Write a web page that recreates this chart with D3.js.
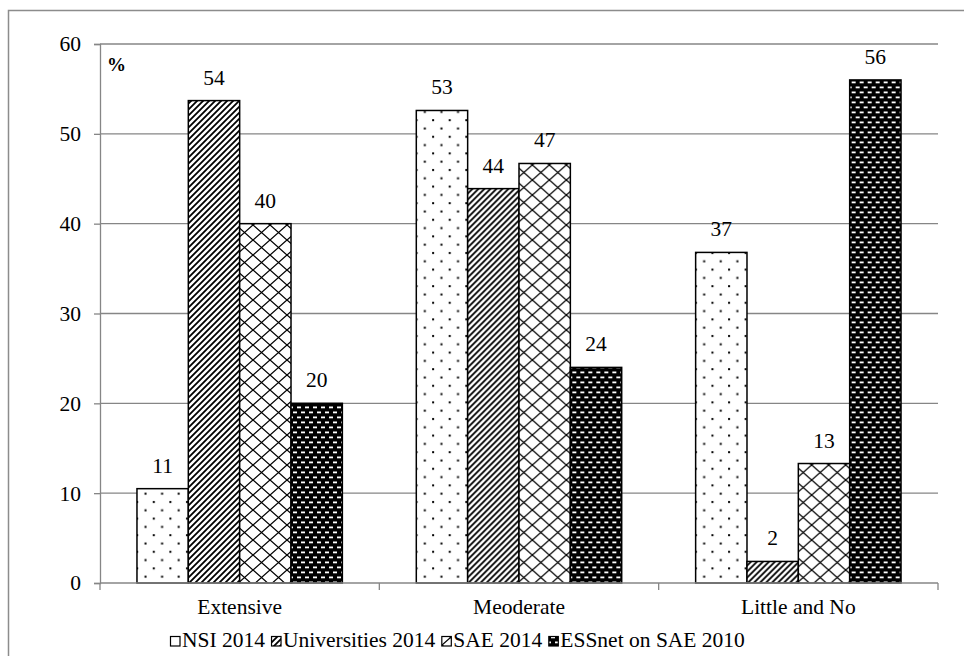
<!DOCTYPE html>
<html><head><meta charset="utf-8">
<script src="https://cdn.jsdelivr.net/npm/d3@7"></script>
<style>body{margin:0;background:#fff}svg{display:block}text{font-family:"Liberation Serif","Times New Roman","DejaVu Serif",serif;fill:#000}</style>
</head><body>
<svg id="c" width="964" height="656"></svg>
<script>
const categories = ["Extensive", "Meoderate", "Little and No"];
const seriesNames = ["NSI 2014", "Universities 2014", "SAE 2014", "ESSnet on SAE 2010"];
const nsi2014 = [10.5, 52.6, 36.8];
const universities2014 = [53.7, 43.9, 2.4];
const sae2014 = [40.0, 46.7, 13.3];
const essnet2010 = [20.0, 24.0, 56.0];
const seriesValues = [nsi2014, universities2014, sae2014, essnet2010];
const yTicks = [0, 10, 20, 30, 40, 50, 60];
const yLabel = "%";

(function(){
const FS = "21.5px";
const svg = d3.select("#c");
const defs = svg.append("defs");
// patterns
const p0 = defs.append("pattern").attr("id","pat0").attr("patternUnits","userSpaceOnUse").attr("width",16.6).attr("height",16.6);
p0.append("rect").attr("width",16.6).attr("height",16.6).attr("fill","#fff");
p0.append("rect").attr("x",3).attr("y",3).attr("width",2).attr("height",2).attr("fill","#000");
p0.append("rect").attr("x",11.3).attr("y",11.3).attr("width",2).attr("height",2).attr("fill","#000");
const p1 = defs.append("pattern").attr("id","pat1").attr("patternUnits","userSpaceOnUse").attr("width",6).attr("height",6);
p1.append("rect").attr("width",6).attr("height",6).attr("fill","#fff");
p1.append("path").attr("d","M-1,1 l2,-2 M0,6 l6,-6 M5,7 l2,-2").attr("stroke","#000").attr("stroke-width",1.8);
const p2 = defs.append("pattern").attr("id","pat2").attr("patternUnits","userSpaceOnUse").attr("width",17).attr("height",15);
p2.append("rect").attr("width",17).attr("height",15).attr("fill","#fff");
p2.append("path").attr("d","M0,0 L17,15 M17,0 L0,15").attr("stroke","#000").attr("stroke-width",1.3);
const p3 = defs.append("pattern").attr("id","pat3").attr("patternUnits","userSpaceOnUse").attr("width",8).attr("height",10);
p3.append("rect").attr("width",8).attr("height",10).attr("fill","#000");
p3.append("rect").attr("x",1).attr("y",1.5).attr("width",4).attr("height",1.8).attr("fill","#fff");
p3.append("rect").attr("x",5).attr("y",6.5).attr("width",4).attr("height",1.8).attr("fill","#fff");
p3.append("rect").attr("x",-3).attr("y",6.5).attr("width",4).attr("height",1.8).attr("fill","#fff");
const fills = ["url(#pat0)","url(#pat1)","url(#pat2)","url(#pat3)"];

// outer border
svg.append("rect").attr("x",8.5).attr("y",10.5).attr("width",1000).attr("height",700)
  .attr("fill","none").attr("stroke","#8c8c8c").attr("stroke-width",1.5);

const mL = 100, mR = 938, mT = 44, mB = 583;
const x0 = d3.scaleBand().domain(categories).range([mL, mR]).paddingInner(0).paddingOuter(0);
const x1 = d3.scaleBand().domain(seriesNames).range([0, x0.bandwidth()]).paddingInner(0).paddingOuter(0.72);
const y = d3.scaleLinear().domain([0, 60]).range([mB, mT]);

// gridlines
svg.append("g").selectAll("line").data(yTicks.filter(d=>d>0)).join("line")
  .attr("x1",mL).attr("x2",mR).attr("y1",d=>y(d)).attr("y2",d=>y(d))
  .attr("stroke","#868686").attr("stroke-width",1.3);

// y axis
const yAxis = svg.append("g").attr("transform",`translate(${mL},0)`)
  .call(d3.axisLeft(y).tickValues(yTicks).tickSize(6).tickPadding(13));
yAxis.select(".domain").attr("stroke","#868686").attr("stroke-width",1.3);
yAxis.selectAll(".tick line").attr("stroke","#868686").attr("stroke-width",1.3);
yAxis.selectAll(".tick text").attr("font-size",FS).attr("fill","#000");

// bars
const groups = svg.append("g").selectAll("g").data(categories).join("g")
  .attr("transform",c=>`translate(${x0(c)},0)`);
groups.selectAll("rect").data((c,ci)=>seriesNames.map((s,si)=>({s,si,v:seriesValues[si][ci]}))).join("rect")
  .attr("x",d=>x1(d.s)).attr("width",x1.bandwidth())
  .attr("y",d=>y(d.v)).attr("height",d=>y(0)-y(d.v))
  .attr("fill",d=>fills[d.si]).attr("stroke","#000").attr("stroke-width",1.5);
groups.selectAll("text.v").data((c,ci)=>seriesNames.map((s,si)=>({s,si,v:seriesValues[si][ci]}))).join("text")
  .attr("class","v").attr("x",d=>x1(d.s)+x1.bandwidth()/2).attr("y",d=>y(d.v)-16)
  .attr("text-anchor","middle").attr("font-size",FS).text(d=>Math.round(d.v));

// x axis
const xAxis = svg.append("g").attr("transform",`translate(0,${mB})`);
xAxis.append("line").attr("x1",mL).attr("x2",mR).attr("stroke","#868686").attr("stroke-width",1.3);
const bounds = categories.map(c=>x0(c)).concat([mR]);
xAxis.selectAll("line.t").data(bounds).join("line").attr("class","t")
  .attr("x1",d=>d).attr("x2",d=>d).attr("y1",0).attr("y2",7)
  .attr("stroke","#868686").attr("stroke-width",1.3);
xAxis.selectAll("text").data(categories).join("text")
  .attr("x",c=>x0(c)+x0.bandwidth()/2).attr("y",31).attr("text-anchor","middle")
  .attr("font-size",FS).text(c=>c);

// % label
svg.append("text").attr("x",107).attr("y",71).attr("font-size","19px").attr("font-weight","bold").text(yLabel);

// legend
const lg = svg.append("g");
let lx = 0;
seriesNames.forEach((s,i)=>{
  const g = lg.append("g");
  g.append("rect").attr("x",lx+0.5).attr("y",636.5).attr("width",9.5).attr("height",9.5)
    .attr("fill",fills[i]).attr("stroke","#000").attr("stroke-width",1.2);
  const t = g.append("text").attr("x",lx+12).attr("y",647).attr("font-size",FS).text(s);
  lx += 12 + t.node().getComputedTextLength() + 6;
});
lg.attr("transform",`translate(170,0)`);
})();
</script>
</body></html>
